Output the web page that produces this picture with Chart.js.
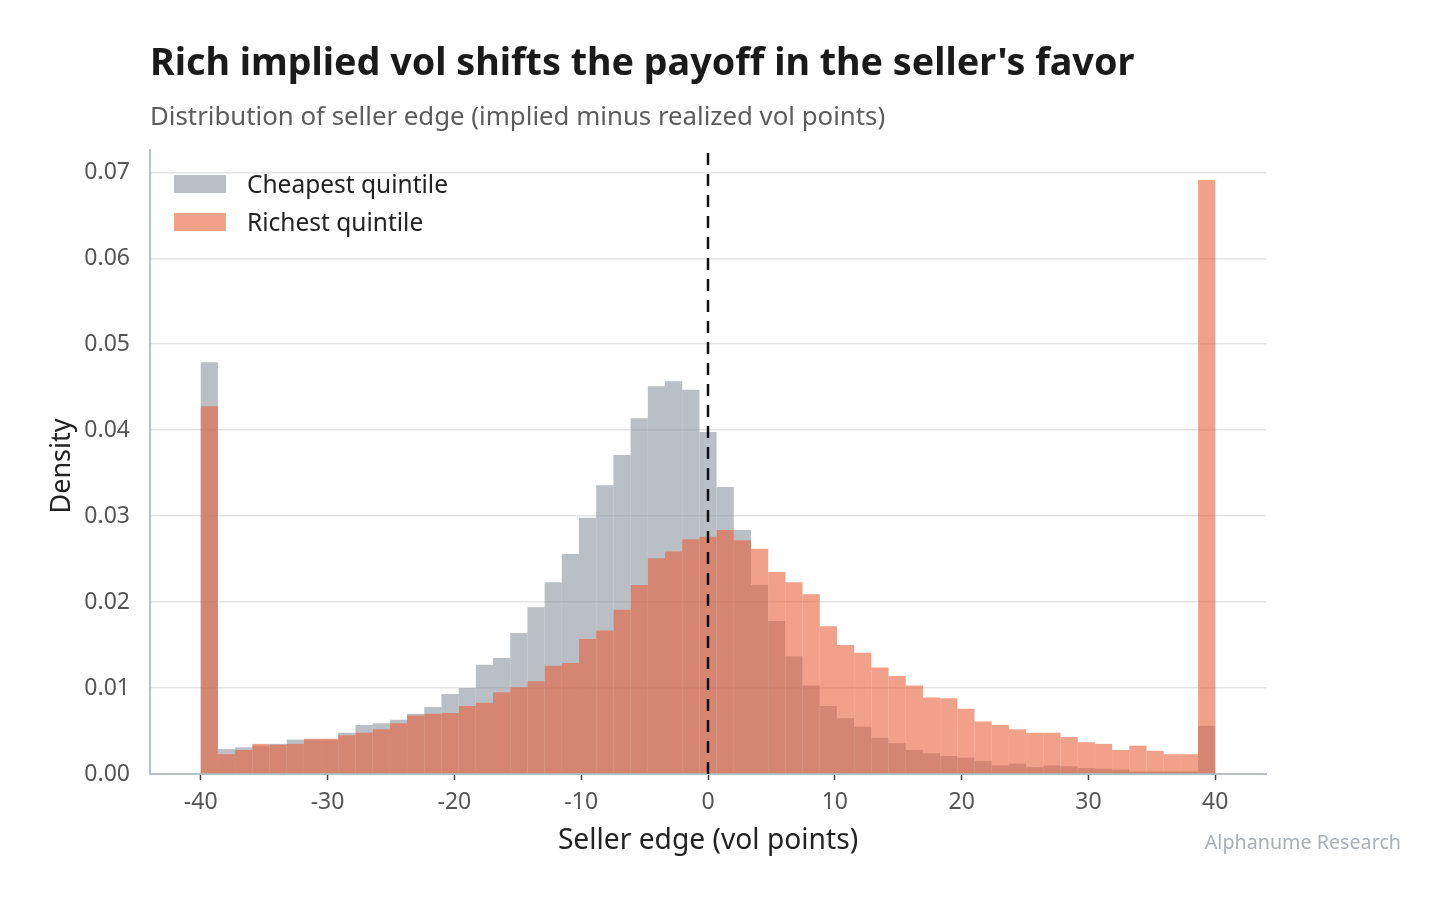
<!DOCTYPE html>
<html lang="en">
<head>
    <meta charset="UTF-8">
    <title>Seller edge distribution</title>
    <script src="https://cdn.jsdelivr.net/npm/chart.js"></script>
    <style>
        body { margin: 0; background: #ffffff; }
        #wrap { width: 1447px; height: 901px; }
    </style>
</head>
<body>
    <div id="wrap"><canvas id="edgeChart" width="1447" height="901"></canvas></div>
    <script>
        // histogram: 59 equal bins between -40 and 40 (values clipped at the ends)
        const binStart = -40;
        const binEnd = 40;
        const binCount = 59;

        // density per bin
        const cheapest = [
            0.0479, 0.0029, 0.0031, 0.0033, 0.0035, 0.0040, 0.0040, 0.0040, 0.0048, 0.0057,
            0.0059, 0.0063, 0.0070, 0.0078, 0.0093, 0.0100, 0.0127, 0.0135, 0.0164, 0.0194,
            0.0223, 0.0256, 0.0298, 0.0336, 0.0371, 0.0414, 0.0451, 0.0457, 0.0447, 0.0398,
            0.0334, 0.0284, 0.0220, 0.0178, 0.0137, 0.0103, 0.0079, 0.0065, 0.0055, 0.0042,
            0.0036, 0.0028, 0.0024, 0.0021, 0.0019, 0.0015, 0.0010, 0.0012, 0.0008, 0.0010,
            0.0009, 0.0007, 0.0006, 0.0005, 0.0003, 0.0003, 0.0003, 0.0003, 0.0056
        ];
        const richest = [
            0.0428, 0.0023, 0.0028, 0.0035, 0.0034, 0.0035, 0.0041, 0.0041, 0.0045, 0.0048,
            0.0052, 0.0059, 0.0068, 0.0070, 0.0071, 0.0079, 0.0083, 0.0095, 0.0101, 0.0108,
            0.0126, 0.0129, 0.0157, 0.0167, 0.0191, 0.0220, 0.0251, 0.0259, 0.0273, 0.0276,
            0.0284, 0.0272, 0.0262, 0.0235, 0.0223, 0.0209, 0.0172, 0.0150, 0.0141, 0.0124,
            0.0114, 0.0103, 0.0089, 0.0088, 0.0076, 0.0061, 0.0057, 0.0052, 0.0048, 0.0048,
            0.0043, 0.0037, 0.0035, 0.0028, 0.0033, 0.0027, 0.0023, 0.0023, 0.0691
        ];
        const xTicks = [-40, -30, -20, -10, 0, 10, 20, 30, 40];
        const yTicks = [0, 0.01, 0.02, 0.03, 0.04, 0.05, 0.06, 0.07];

        const seriesNames = ['Cheapest quintile', 'Richest quintile'];
        const grayFill = 'rgba(139, 149, 158, 0.6)';
        const redFill = 'rgba(232, 96, 58, 0.6)';
        const FONT = '"Noto Sans", "Open Sans", sans-serif';

        const binWidth = (binEnd - binStart) / binCount;
        const centers = cheapest.map((_, i) => binStart + (i + 0.5) * binWidth);
        const toPoints = vals => vals.map((v, i) => ({ x: centers[i], y: v }));

        // shrink/grow a font so the text spans the width seen in the reference
        function fitFont(ctx, text, weight, target) {
            ctx.font = weight + ' 100px ' + FONT;
            let size = 100 * target / ctx.measureText(text).width;
            return weight + ' ' + size.toFixed(1) + 'px ' + FONT;
        }

        const decorations = {
            id: 'decorations',
            afterDatasetsDraw(chart) {
                const ctx = chart.ctx;
                const x0 = chart.scales.x.getPixelForValue(0);
                ctx.save();
                ctx.strokeStyle = '#111111';
                ctx.lineWidth = 2.5;
                ctx.setLineDash([12, 9]);
                ctx.beginPath();
                ctx.moveTo(x0, 153);
                ctx.lineTo(x0, chart.chartArea.bottom);
                ctx.stroke();
                ctx.restore();
            },
            afterDraw(chart) {
                const ctx = chart.ctx;
                ctx.save();
                ctx.textBaseline = 'middle';

                ctx.fillStyle = '#1a1a1a';
                ctx.textAlign = 'left';
                ctx.font = fitFont(ctx, 'Rich implied vol shifts the payoff in the seller\'s favor', 'bold', 985);
                ctx.fillText('Rich implied vol shifts the payoff in the seller\'s favor', 150, 64);

                ctx.fillStyle = '#5c5c5c';
                ctx.font = fitFont(ctx, 'Distribution of seller edge (implied minus realized vol points)', 'normal', 736);
                ctx.fillText('Distribution of seller edge (implied minus realized vol points)', 150, 118);

                // axis titles
                ctx.fillStyle = '#222222';
                ctx.textAlign = 'center';
                ctx.font = fitFont(ctx, 'Seller edge (vol points)', 'normal', 300);
                ctx.fillText('Seller edge (vol points)', 708, 841);

                ctx.save();
                ctx.translate(62, 466);
                ctx.rotate(-Math.PI / 2);
                ctx.font = fitFont(ctx, 'Density', 'normal', 95);
                ctx.fillText('Density', 0, 0);
                ctx.restore();

                // legend
                const fills = [grayFill, redFill];
                ctx.textAlign = 'left';
                ctx.font = fitFont(ctx, seriesNames[0], 'normal', 201);
                seriesNames.forEach((name, i) => {
                    const y = 184 + i * 38;
                    ctx.fillStyle = fills[i];
                    ctx.fillRect(174, y - 9, 52, 18);
                    ctx.fillStyle = '#222222';
                    ctx.fillText(name, 247, y + 2);
                });

                // watermark
                ctx.fillStyle = '#a9b0b7';
                ctx.textAlign = 'right';
                ctx.font = fitFont(ctx, 'Alphanume Research', 'normal', 196);
                ctx.fillText('Alphanume Research', 1401, 843);
                ctx.restore();
            }
        };

        new Chart(document.getElementById('edgeChart'), {
            type: 'bar',
            data: {
                datasets: [
                    {
                        label: seriesNames[0],
                        data: toPoints(cheapest),
                        backgroundColor: grayFill,
                        order: 2
                    },
                    {
                        label: seriesNames[1],
                        data: toPoints(richest),
                        backgroundColor: redFill,
                        order: 1
                    }
                ]
            },
            options: {
                responsive: false,
                animation: false,
                layout: { padding: { left: 0, right: 181, top: 150, bottom: 0 } },
                datasets: {
                    bar: {
                        grouped: false,
                        barPercentage: 1,
                        categoryPercentage: 1,
                        borderWidth: 0,
                        inflateAmount: 0
                    }
                },
                plugins: {
                    legend: { display: false },
                    tooltip: { enabled: false }
                },
                scales: {
                    x: {
                        type: 'linear',
                        offset: false,
                        min: -44,
                        max: 44,
                        afterBuildTicks: s => { s.ticks = xTicks.map(v => ({ value: v })); },
                        afterFit: s => { s.height = 127; },
                        grid: {
                            offset: false,
                            drawOnChartArea: false,
                            drawTicks: true,
                            tickLength: 6,
                            tickColor: '#444444',
                            tickWidth: 1.5
                        },
                        border: { color: '#b9c0c7', width: 2 },
                        ticks: {
                            color: '#555555',
                            font: { family: FONT, size: 23 },
                            padding: 9,
                            callback: v => String(v)
                        }
                    },
                    y: {
                        min: 0,
                        max: 0.0726,
                        afterBuildTicks: s => { s.ticks = yTicks.map(v => ({ value: v })); },
                        afterFit: s => { s.width = 150; },
                        grid: {
                            color: '#e4e4e4',
                            lineWidth: 1.5,
                            drawTicks: false
                        },
                        border: { color: '#b9c0c7', width: 2 },
                        ticks: {
                            color: '#555555',
                            font: { family: FONT, size: 23 },
                            padding: 20,
                            callback: v => v.toFixed(2)
                        }
                    }
                }
            },
            plugins: [decorations]
        });
    </script>
</body>
</html>
